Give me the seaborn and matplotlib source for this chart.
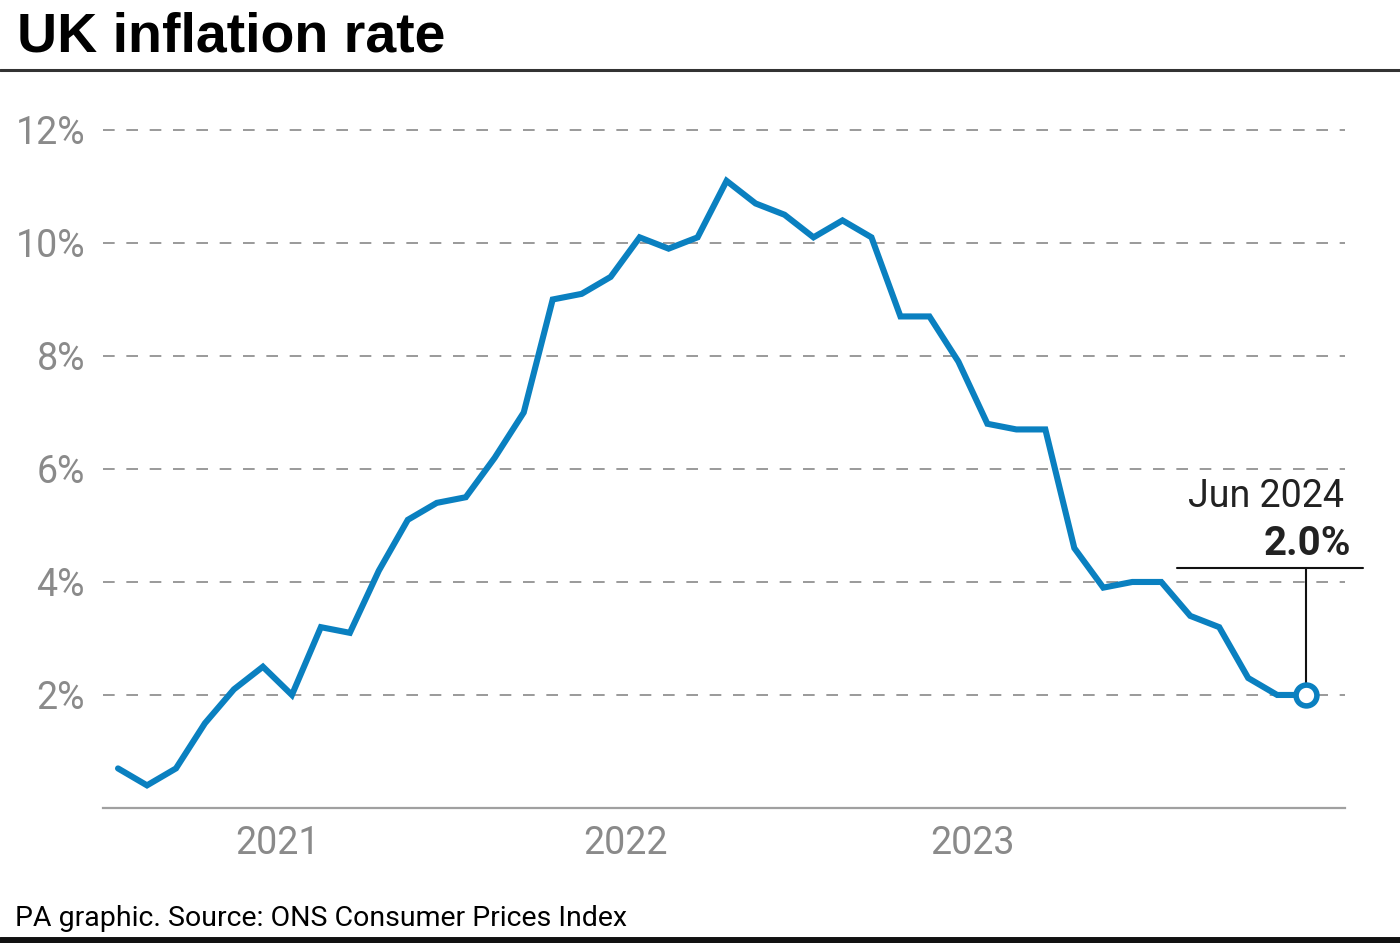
import matplotlib
matplotlib.use("Agg")
import matplotlib.pyplot as plt
import pandas as pd
import numpy as np
import seaborn as sns

# datos: IPC Reino Unido, ene 2021 - jun 2024
meses = pd.date_range("2021-01-01", "2024-06-01", freq="MS")
inflacion = [0.7, 0.4, 0.7, 1.5, 2.1, 2.5, 2.0, 3.2, 3.1, 4.2, 5.1, 5.4,
             5.5, 6.2, 7.0, 9.0, 9.1, 9.4, 10.1, 9.9, 10.1, 11.1, 10.7, 10.5,
             10.1, 10.4, 10.1, 8.7, 8.7, 7.9, 6.8, 6.7, 6.7, 4.6, 3.9, 4.0,
             4.0, 3.4, 3.2, 2.3, 2.0, 2.0]
anios = ["2021", "2022", "2023"]
ticks_y = [2, 4, 6, 8, 10, 12]
etiqueta_mes = "Jun 2024"
etiqueta_valor = "2.0%"

df = pd.DataFrame({"mes": meses, "inflacion": inflacion})
df["i"] = np.arange(len(df))

sns.set_style("white")
plt.rcParams["font.family"] = ["Roboto", "DejaVu Sans"]

azul = "#0a80c0"
gris = "#8a8a8a"

fig = plt.figure(figsize=(14, 9.43), dpi=100)
ax = fig.add_axes([0.0736, 0.1432, 0.8871, 0.7489])

sns.lineplot(data=df, x="i", y="inflacion", ax=ax, color=azul, linewidth=4.4,
             solid_joinstyle="miter", zorder=3)
ultimo = df.iloc[-1]
ax.plot(ultimo["i"], ultimo["inflacion"], marker="o", markersize=15,
        markerfacecolor="white", markeredgecolor=azul, markeredgewidth=4,
        zorder=4, clip_on=False)

ax.set_xlim(-0.517, 42.34)
ax.set_ylim(0, 12.5)
ax.set_yticks(ticks_y)
ax.set_yticklabels([f"{t}%" for t in ticks_y])
# etiquetas de año centradas en cada año
ax.set_xticks([df.index[df["mes"].dt.year == int(a)].values.mean() for a in anios])
ax.set_xticklabels(anios)
ax.tick_params(axis="both", length=0, labelsize=27, labelcolor=gris)
ax.tick_params(axis="y", pad=13)
ax.tick_params(axis="x", pad=12)
ax.yaxis.grid(True, color="#9a9a9a", linestyle=(0, (6, 6)), linewidth=1.4)
ax.set_axisbelow(True)
for s in ["top", "right", "left"]:
    ax.spines[s].set_visible(False)
ax.spines["bottom"].set_color("#a0a0a0")
ax.spines["bottom"].set_linewidth(1.6)
ax.set_xlabel("")
ax.set_ylabel("")

# anotación último valor
xi, yv = ultimo["i"], ultimo["inflacion"]
ax.plot([xi, xi], [yv + 0.22, 4.25], color="#111111", linewidth=1.5, zorder=2, clip_on=False)
ax.plot([xi - 4.45, xi + 1.95], [4.25, 4.25], color="#111111", linewidth=1.5, clip_on=False)
ax.text(xi + 1.55, 4.47, etiqueta_valor, ha="right", va="baseline", fontsize=29,
        fontweight="bold", color="#222222")
ax.text(xi + 1.3, 5.33, etiqueta_mes, ha="right", va="baseline", fontsize=27,
        color="#222222")

# título, reglas y pie
fig.text(0.012, 0.945, "UK inflation rate", fontsize=40, fontweight="bold",
         color="black", va="baseline", family=["Liberation Sans", "DejaVu Sans"])
fig.add_artist(plt.Line2D([0, 1], [1 - 70 / 943, 1 - 70 / 943], color="#333333", linewidth=2.2))
fig.text(0.011, 1 - 926 / 943, "PA graphic. Source: ONS Consumer Prices Index", fontsize=20.5,
         color="black", va="baseline")
fig.add_artist(plt.Line2D([0, 1], [1 - 940 / 943, 1 - 940 / 943], color="#111111", linewidth=5))

fig.savefig("out.png", dpi=100)
